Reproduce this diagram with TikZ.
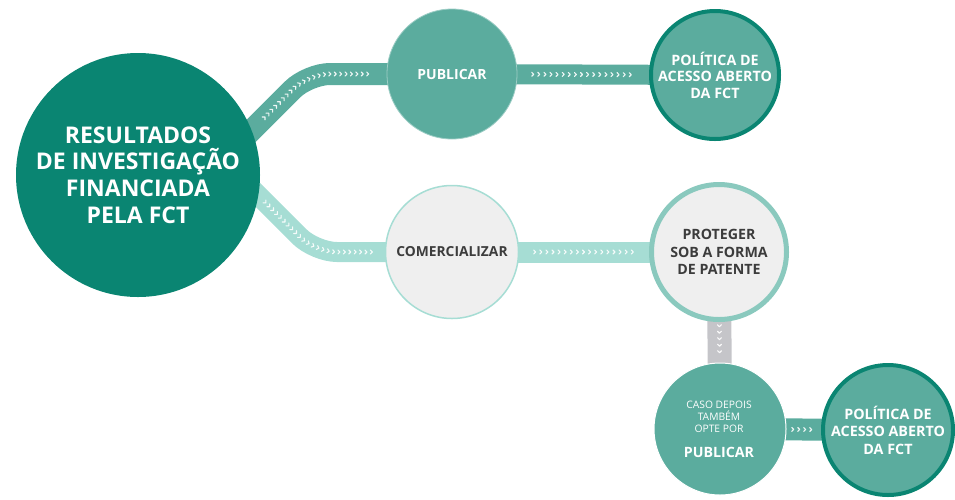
\documentclass[tikz,border=0pt]{standalone}
\usepackage{fontspec}
\setmainfont{Open Sans}
\usetikzlibrary{decorations.markings}
\pgfdeclarelayer{bg}
\pgfsetlayers{bg,main}
\definecolor{dteal}{RGB}{10,133,114}
\definecolor{mteal}{RGB}{91,172,158}
\definecolor{lteal}{RGB}{166,221,212}
\definecolor{rteal}{RGB}{138,201,190}
\definecolor{cgray}{RGB}{239,239,239}
\definecolor{bgray}{RGB}{197,197,201}
\definecolor{tgray}{RGB}{60,60,60}
\tikzset{
  circ/.style={circle, inner sep=0pt, align=center},
  txt/.style={inner sep=0pt, align=center},
  chev/.style={white, line width=1.1pt, opacity=0.9, line cap=round, line join=round, sharp corners},
  chevrons/.style n args={3}{postaction={decorate, decoration={markings,
      mark=between positions #1 and #2 step #3 with {\draw[chev] (-1.3pt,2pt) -- (0.7pt,0pt) -- (-1.3pt,-2pt);}}}},
  band/.style={line width=#1},
}
\begin{document}
\begin{tikzpicture}[x=1pt,y=-1pt]
\useasboundingbox (0,0) rectangle (955,499);
% nodes
\node[circ, fill=dteal, minimum size=244pt, text=white,
      font=\bfseries\fontsize{23}{26.7}\selectfont] (res) at (138,175)
      {RESULTADOS\\DE INVESTIGAÇÃO\\FINANCIADA\\PELA FCT};
\node[circ, fill=mteal, draw=mteal!60!white, line width=0.8pt, minimum size=130pt, text=white,
      font=\bfseries\fontsize{14}{17}\selectfont] (pub) at (452,74) {PUBLICAR};
\node[circ, fill=mteal, draw=dteal, line width=4pt, minimum size=128pt, text=white,
      font=\bfseries\fontsize{14.3}{16.5}\selectfont] (pol1) at (715,75)
      {POLÍTICA DE\\ACESSO ABERTO\\DA FCT};
\node[circ, fill=cgray, draw=lteal, line width=1.5pt, minimum size=133pt, text=tgray,
      font=\bfseries\fontsize{13.8}{17}\selectfont] (com) at (452,252) {COMERCIALIZAR};
\node[circ, fill=cgray, draw=rteal, line width=5pt, minimum size=135pt, text=tgray,
      font=\bfseries\fontsize{14.2}{17.5}\selectfont] (pro) at (719,252)
      {PROTEGER\\SOB A FORMA\\DE PATENTE};
\node[circ, fill=mteal, draw=white, line width=1pt, minimum size=132pt] (pub2) at (720,429) {};
\node[txt, text=white, font=\fontsize{10.3}{12}\selectfont] (pub2s) at (719,417)
      {CASO DEPOIS\\TAMBÉM\\OPTE POR};
\node[txt, text=white, font=\bfseries\fontsize{14.2}{17}\selectfont] (pub2t) at (719,452) {PUBLICAR};
\node[circ, fill=mteal, draw=dteal, line width=4pt, minimum size=130pt, text=white,
      font=\bfseries\fontsize{14.3}{17.5}\selectfont] (pol2) at (888,430)
      {POLÍTICA DE\\ACESSO ABERTO\\DA FCT};
% bend points
\coordinate (a1) at (232,150);
\coordinate (c1) at (308,74);
\coordinate (a2) at (235,172);
\coordinate (c2) at (315,252);
% connectors
\begin{pgfonlayer}{bg}
\draw[band=22pt, mteal, rounded corners=22pt, chevrons={46pt}{-80pt}{5.4pt}] (a1) -- (c1) -- (pub.center);
\draw[band=20pt, lteal, rounded corners=22pt, chevrons={43pt}{-80pt}{5.4pt}] (a2) -- (c2) -- (com.center);
\draw[band=20pt, mteal, chevrons={81pt}{-83pt}{6.1pt}] (pub.center) -- (pol1.center);
\draw[band=21pt, lteal, chevrons={83pt}{-86pt}{6.1pt}] (com.center) -- (pro.center);
\draw[band=24pt, bgray, chevrons={74pt}{-77pt}{6.5pt}] (pro.center) -- (pub2.center);
\draw[band=22pt, mteal, chevrons={73pt}{-75pt}{6pt}] (pub2.center) -- (pol2.center);
\end{pgfonlayer}
\end{tikzpicture}
\end{document}
